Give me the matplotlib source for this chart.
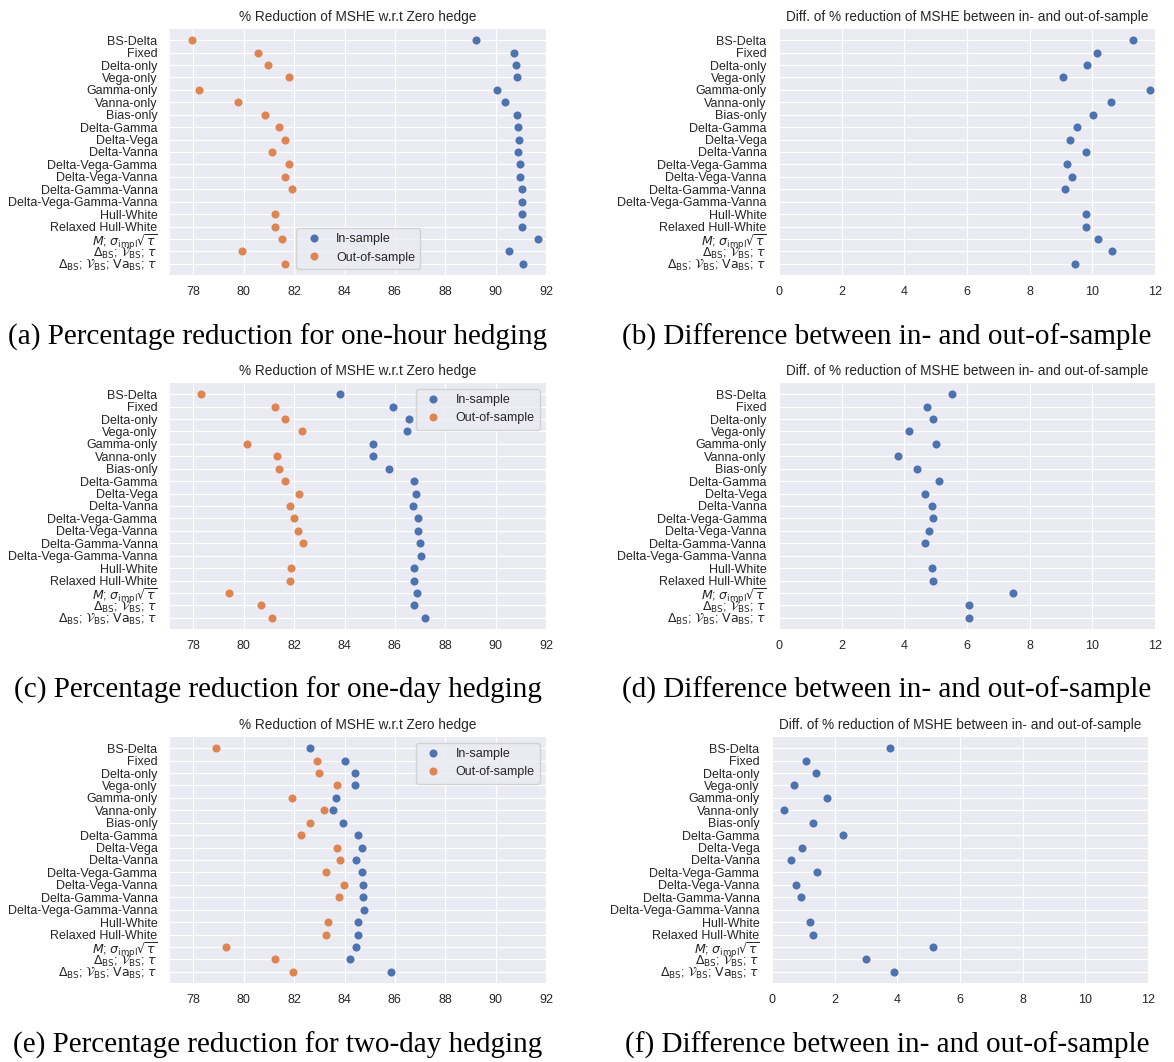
import numpy as np
import matplotlib
matplotlib.use("Agg")
import matplotlib.pyplot as plt
import seaborn as sns

sns.set_style("darkgrid")
plt.rcParams['font.family'] = ['Liberation Sans', 'DejaVu Sans']
plt.rcParams['mathtext.fontset'] = 'dejavusans'

strategies = ["BS-Delta", "Fixed", "Delta-only", "Vega-only", "Gamma-only",
              "Vanna-only", "Bias-only", "Delta-Gamma", "Delta-Vega", "Delta-Vanna",
              "Delta-Vega-Gamma", "Delta-Vega-Vanna", "Delta-Gamma-Vanna",
              "Delta-Vega-Gamma-Vanna", "Hull-White", "Relaxed Hull-White",
              r"$M$; $\sigma_{\mathrm{impl}}\sqrt{\tau}$",
              r"$\Delta_{\mathrm{BS}}$; $\mathcal{V}_{\mathrm{BS}}$; $\tau$",
              r"$\Delta_{\mathrm{BS}}$; $\mathcal{V}_{\mathrm{BS}}$; $\mathrm{Va}_{\mathrm{BS}}$; $\tau$"]

# % reduction of MSHE, one-hour hedging
hour_in = [89.24, 90.71, 90.81, 90.85, 90.05, 90.36, 90.85, 90.90, 90.94, 90.90,
           90.98, 90.98, 91.04, 91.04, 91.04, 91.04, 91.67, 90.54, 91.08]
hour_out = [77.94, 80.57, 80.98, 81.79, 78.21, 79.78, 80.84, 81.38, 81.64, 81.11,
            81.79, 81.64, 81.91, np.nan, 81.23, 81.23, 81.50, 79.91, 81.64]

# one-day hedging
day_in = [83.83, 85.94, 86.57, 86.47, 85.13, 85.13, 85.77, 86.74, 86.83, 86.70,
          86.93, 86.93, 87.01, 87.05, 86.74, 86.74, 86.87, 86.74, 87.18]
day_out = [78.31, 81.23, 81.64, 82.32, 80.12, 81.33, 81.38, 81.64, 82.18, 81.83,
           82.01, 82.14, 82.36, np.nan, 81.87, 81.83, 79.41, 80.67, 81.11]

# two-day hedging
twoday_in = [82.63, 84.00, 84.41, 84.41, 83.65, 83.56, 83.93, 84.55, 84.68, 84.45,
             84.68, 84.72, 84.72, 84.77, 84.55, 84.55, 84.45, 84.23, 85.84]
twoday_out = [78.88, 82.90, 82.99, 83.71, 81.91, 83.17, 82.63, 82.28, 83.71, 83.83,
              83.25, 83.97, 83.79, np.nan, 83.35, 83.25, 79.31, 81.23, 81.95]

captions = ["(a) Percentage reduction for one-hour hedging",
            "(b) Difference between in- and out-of-sample",
            "(c) Percentage reduction for one-day hedging",
            "(d) Difference between in- and out-of-sample",
            "(e) Percentage reduction for two-day hedging",
            "(f) Difference between in- and out-of-sample"]

W, H = 1174, 1062
blue = "#4C72B0"
orange = "#DD8452"
txtcol = ".15"


def pxAxes(fig, left, top, width, bottom):
    return fig.add_axes([left / W, 1 - bottom / H, width / W, (bottom - top) / H])


def styleAxes(ax):
    y = np.arange(len(strategies))
    ax.set_yticks(y)
    ax.set_yticklabels(strategies)
    ax.set_ylim(len(strategies) - 1 + 0.9, -0.9)
    ax.tick_params(axis='both', labelsize=9, colors=txtcol, length=0)
    ax.tick_params(axis='y', pad=9)
    ax.tick_params(axis='x', pad=8)
    ax.grid(True, color="white", linewidth=0.9)
    for s in ax.spines.values():
        s.set_visible(False)


#Percentage reduction panel
def reductionPlot(ax, ins, outs, legendLoc):
    y = np.arange(len(strategies))
    ax.plot(ins, y, 'o', color=blue, ms=5.8, mew=0, label="In-sample")
    ax.plot(outs, y, 'o', color=orange, ms=5.8, mew=0, label="Out-of-sample")
    styleAxes(ax)
    ax.set_xlim(77.07, 92)
    ax.set_xticks(np.arange(78, 93, 2))
    ax.set_title("% Reduction of MSHE w.r.t Zero hedge", fontsize=9.8, color=txtcol)
    ax.legend(loc=legendLoc, fontsize=9, frameon=True)


#Difference panel
def diffPlot(ax, ins, outs):
    y = np.arange(len(strategies))
    diff = np.array(ins) - np.array(outs)
    ax.plot(diff, y, 'o', color=blue, ms=5.8, mew=0)
    styleAxes(ax)
    ax.set_xlim(0, 12)
    ax.set_xticks(np.arange(0, 13, 2))
    ax.set_title("Diff. of % reduction of MSHE between in- and out-of-sample",
                 fontsize=9.8, color=txtcol)


fig = plt.figure(figsize=(W / 100, H / 100), dpi=100)

rows = [(29, 275), (383, 629), (737, 983)]
datasets = [(hour_in, hour_out, "lower center"),
            (day_in, day_out, "upper right"),
            (twoday_in, twoday_out, "upper right")]
rightLeft = [779, 779, 772]
capY = [337, 690, 1045]

for i, ((top, bottom), (ins, outs, loc)) in enumerate(zip(rows, datasets)):
    axL = pxAxes(fig, 170, top, 376, bottom)
    reductionPlot(axL, ins, outs, loc)
    axR = pxAxes(fig, rightLeft[i], top, 376, bottom)
    diffPlot(axR, ins, outs)
    fig.text(278 / W, 1 - capY[i] / H, captions[2 * i], ha='center', va='center',
             fontsize=21, family='Liberation Serif', color='black')
    fig.text(887 / W, 1 - capY[i] / H, captions[2 * i + 1], ha='center', va='center',
             fontsize=21, family='Liberation Serif', color='black')

fig.savefig("out.png", dpi=100)
